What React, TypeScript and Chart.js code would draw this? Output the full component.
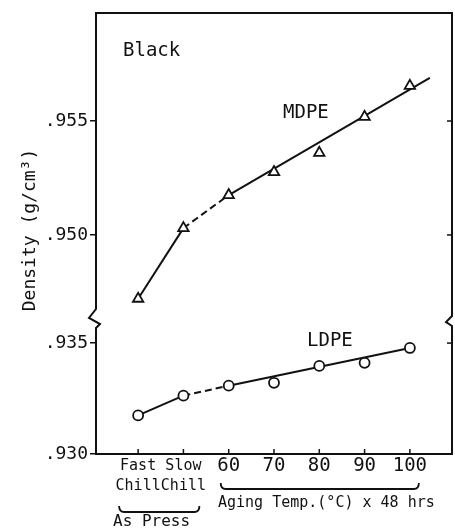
import React, { useEffect, useRef } from "react";
import { Chart, registerables } from "chart.js";

Chart.register(...registerables);

// ---- data ----
const categoryLabels: (string | string[])[] = [["Fast", "Chill"], ["Slow", "Chill"], "60", "70", "80", "90", "100"];
const categoryX = [0, 1, 2, 3, 4, 5, 6];
const mdpeDensity = [0.9472, 0.9503, 0.95175, 0.95276, 0.9536, 0.95518, 0.95654];
const ldpeDensity = [0.93174, 0.93263, 0.93308, 0.93321, 0.93397, 0.93411, 0.93478];
const mdpeFitX = [2, 6.44];
const mdpeFitY = [0.95175, 0.95689];
const ldpeFitX = [2, 6];
const ldpeFitY = [0.93308, 0.93478];
const upperTicks = [0.95, 0.955];
const lowerTicks = [0.93, 0.935];
const upperRange = [0.94618, 0.95974];
const lowerRange = [0.93, 0.93595];
const xRange = [-0.93, 6.93];

const INK = "#111";
const MONO = "'DejaVu Sans Mono', monospace";

const pts = (xs: number[], ys: number[]) => xs.map((x, i) => ({ x, y: ys[i] }));

const decor = {
  id: "decor",
  afterDraw(chart: any) {
    const { ctx, chartArea: a, scales } = chart;
    const yTop = scales.yTop;
    const yBot = scales.yBot;
    const x = scales.x;
    const breakY = yTop.bottom;
    ctx.save();
    ctx.strokeStyle = INK;
    ctx.fillStyle = INK;
    ctx.lineWidth = 2;
    ctx.lineCap = "butt";
    // top and right border with break
    ctx.beginPath();
    ctx.moveTo(a.left, a.top);
    ctx.lineTo(a.right, a.top);
    ctx.lineTo(a.right, breakY - 6);
    ctx.lineTo(a.right - 6, breakY);
    ctx.lineTo(a.right, breakY + 4);
    ctx.lineTo(a.right, a.bottom);
    ctx.stroke();
    // left break zigzag
    ctx.fillStyle = "#fff";
    ctx.fillRect(a.left - 2, breakY - 15, 4, 23);
    ctx.fillStyle = INK;
    ctx.beginPath();
    ctx.moveTo(a.left, breakY - 15);
    ctx.lineTo(a.left, breakY - 13);
    ctx.lineTo(a.left - 7, breakY - 4);
    ctx.lineTo(a.left + 4, breakY + 2);
    ctx.lineTo(a.left, breakY + 6);
    ctx.lineTo(a.left, breakY + 9);
    ctx.stroke();
    // inward x ticks
    ctx.lineWidth = 1.5;
    categoryX.forEach((v) => {
      const px = x.getPixelForValue(v);
      ctx.beginPath();
      ctx.moveTo(px, a.bottom);
      ctx.lineTo(px, a.bottom - 5);
      ctx.stroke();
    });
    // inward right ticks
    const rt = [...upperTicks.map((v) => yTop.getPixelForValue(v)), yBot.getPixelForValue(lowerTicks[1])];
    rt.forEach((py) => {
      ctx.beginPath();
      ctx.moveTo(a.right, py);
      ctx.lineTo(a.right - 5, py);
      ctx.stroke();
    });
    // annotations
    ctx.textAlign = "left";
    ctx.textBaseline = "middle";
    ctx.font = `19px ${MONO}`;
    ctx.fillText("Black", 123, 51);
    ctx.fillText("MDPE", 283, 113);
    ctx.fillText("LDPE", 307, 341);
    // y title
    ctx.save();
    ctx.translate(30, 230);
    ctx.rotate(-Math.PI / 2);
    ctx.textAlign = "center";
    ctx.font = `18px ${MONO}`;
    ctx.fillText("Density (g/cm³)", 0, 0);
    ctx.restore();
    // braces
    const brace = (x1: number, x2: number, y1: number, y2: number) => {
      ctx.beginPath();
      ctx.moveTo(x1, y1);
      ctx.quadraticCurveTo(x1, y2, x1 + 5, y2);
      ctx.lineTo(x2 - 5, y2);
      ctx.quadraticCurveTo(x2, y2, x2, y1);
      ctx.stroke();
    };
    ctx.lineWidth = 1.8;
    const xs0 = x.getPixelForValue(categoryX[0]);
    const xs1 = x.getPixelForValue(categoryX[1]);
    const xs2 = x.getPixelForValue(categoryX[2]);
    const xs6 = x.getPixelForValue(categoryX[6]);
    brace(xs0 - 19, xs1 + 16, 506, 512);
    brace(xs2 - 8, xs6 + 9, 483, 489);
    ctx.font = `16px ${MONO}`;
    ctx.textAlign = "left";
    ctx.fillText("As Press", 113, 522);
    ctx.font = `15px ${MONO}`;
    ctx.fillText("Aging Temp.(°C) x 48 hrs", 218, 503);
    ctx.restore();
  },
};

export default function App() {
  const ref = useRef<HTMLCanvasElement | null>(null);
  useEffect(() => {
    if (!ref.current) return;
    const yTickCommon = {
      type: "linear" as const,
      position: "left" as const,
      stack: "density",
      afterFit: (s: any) => {
        s.width = 96;
        s.paddingTop = 0;
        s.paddingBottom = 0;
      },
      border: { display: true, color: INK, width: 2 },
      grid: { display: true, drawOnChartArea: false, drawTicks: true, tickLength: 6, color: INK, lineWidth: 1.5 },
      ticks: {
        color: INK,
        padding: 2,
        font: { family: MONO, size: 18 },
        callback: (v: any) => Number(v).toFixed(3).replace(/^0/, ""),
      },
    };
    const lineDs = (data: any[], axis: string, dash: number[] = []) => ({
      data,
      yAxisID: axis,
      showLine: true,
      borderColor: INK,
      borderWidth: 2,
      borderDash: dash,
      pointRadius: 0,
      fill: false,
      order: 1,
    });
    const chart = new Chart(ref.current, {
      type: "scatter",
      data: {
        datasets: [
          {
            data: pts(categoryX, mdpeDensity),
            yAxisID: "yTop",
            pointStyle: "triangle",
            pointRadius: 6,
            borderColor: INK,
            backgroundColor: "#fff",
            borderWidth: 1.8,
            order: 0,
          } as any,
          {
            data: pts(categoryX, ldpeDensity),
            yAxisID: "yBot",
            pointStyle: "circle",
            pointRadius: 5,
            borderColor: INK,
            backgroundColor: "#fff",
            borderWidth: 1.8,
            order: 0,
          },
          lineDs(pts(categoryX.slice(0, 2), mdpeDensity.slice(0, 2)), "yTop"),
          lineDs(pts(categoryX.slice(1, 3), mdpeDensity.slice(1, 3)), "yTop", [7, 4]),
          lineDs(pts(mdpeFitX, mdpeFitY), "yTop"),
          lineDs(pts(categoryX.slice(0, 2), ldpeDensity.slice(0, 2)), "yBot"),
          lineDs(pts(categoryX.slice(1, 3), ldpeDensity.slice(1, 3)), "yBot", [7, 4]),
          lineDs(pts(ldpeFitX, ldpeFitY), "yBot"),
        ],
      },
      options: {
        animation: false,
        responsive: false,
        layout: { autoPadding: false, padding: { top: 13, right: 3, left: 0, bottom: 0 } },
        plugins: { legend: { display: false }, tooltip: { enabled: false } },
        scales: {
          x: {
            type: "linear",
            position: "bottom",
            min: xRange[0],
            max: xRange[1],
            afterBuildTicks: (s: any) => {
              s.ticks = categoryX.map((v) => ({ value: v }));
            },
            afterFit: (s: any) => {
              s.height = 76;
              s.paddingLeft = 0;
              s.paddingRight = 0;
            },
            border: { display: true, color: INK, width: 2 },
            grid: { display: false, drawTicks: false },
            ticks: {
              color: INK,
              padding: 2,
              maxRotation: 0,
              autoSkip: false,
              font: (c: any) =>
                c.index < 2
                  ? { family: MONO, size: 15, lineHeight: "20px" }
                  : { family: MONO, size: 19, lineHeight: "20px" },
              callback: (v: any, i: number) => categoryLabels[i],
            },
          },
          yBot: {
            ...yTickCommon,
            min: lowerRange[0],
            max: lowerRange[1],
            stackWeight: 132,
            afterBuildTicks: (s: any) => {
              s.ticks = lowerTicks.map((v) => ({ value: v }));
            },
          },
          yTop: {
            ...yTickCommon,
            min: upperRange[0],
            max: upperRange[1],
            stackWeight: 309,
            afterBuildTicks: (s: any) => {
              s.ticks = upperTicks.map((v) => ({ value: v }));
            },
          },
        } as any,
      },
      plugins: [decor],
    });
    return () => chart.destroy();
  }, []);
  return (
    <div style={{ position: "fixed", left: 0, top: 0, width: 455, height: 530, background: "#fff" }}>
      <canvas ref={ref} width={455} height={530} style={{ display: "block" }} />
    </div>
  );
}
